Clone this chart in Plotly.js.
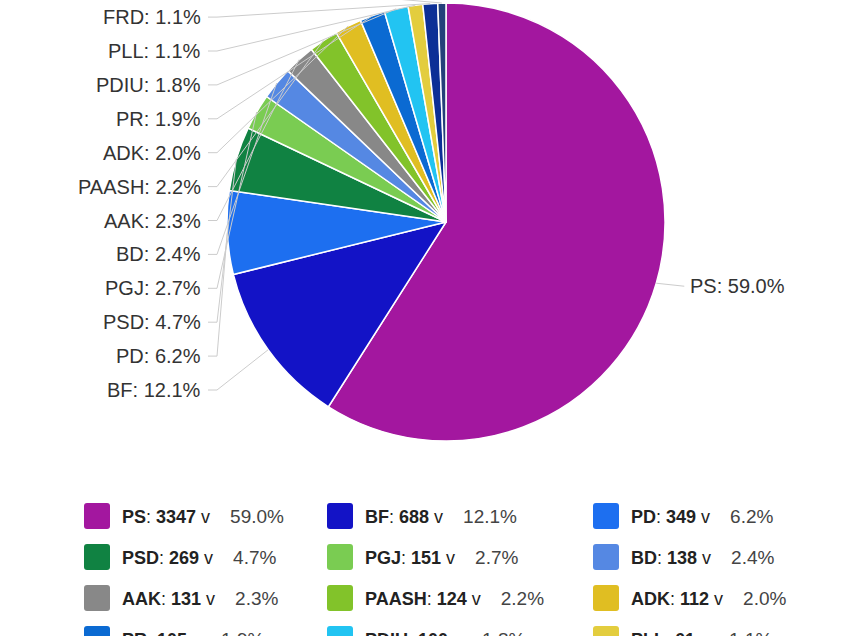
<!DOCTYPE html>
<html>
<head>
<meta charset="utf-8">
<script src="https://cdn.plot.ly/plotly-3.0.1.min.js"></script>
<style>
  html, body { margin: 0; padding: 0; background: #fff; }
  #chart { width: 850px; height: 636px; }
</style>
</head>
<body>
<div id="chart"></div>
<script>
"use strict";

/******************************** Data *********************************/

var parties = ['PS', 'BF', 'PD', 'PSD', 'PGJ', 'BD', 'AAK', 'PAASH', 'ADK', 'PR', 'PDIU', 'PLL', 'FRD', 'Të tjerë'];
var votes   = [3347, 688, 349, 269, 151, 138, 131, 124, 112, 105, 100, 61, 62, 34];
var colors  = ['#a3179f', '#1313c6', '#1d6ff0', '#108242', '#7acc52', '#5588e3', '#888888',
               '#82c32a', '#e0be22', '#0b6ad2', '#22c4f2', '#e3cd3e', '#0c2f96', '#24407a'];

/******************************** Layout constants *********************************/

var W = 850, H = 636;
var cx = 446, cy = 222, R = 219;          // pie centre / radius in pixels
var labelRight = 203, labelBottom = 390, labelStep = 33.9;
var legCols = [84, 327, 593], legTop = 516, legStep = 41, swatch = 26;

function px(x) { return x / W; }
function py(y) { return 1 - y / H; }

var total = votes.reduce(function (a, b) { return a + b; }, 0);
function pct(v) { return (100 * v / total).toFixed(1) + '%'; }

var annotations = [];
var shapes = [];

/****** pie labels with leader lines ******/
var cum = 0, k = 0;
votes.forEach(function (v, i) {
  var th = 2 * Math.PI * (cum + v / 2) / total;
  cum += v;
  var ex = cx + R * Math.sin(th), ey = cy - R * Math.cos(th);
  var txt = parties[i] + ': ' + pct(v);
  if (Math.sin(th) < 0) {
    var ly = labelBottom - k * labelStep;
    k++;
    annotations.push({x: px(labelRight), y: py(ly), xref: 'paper', yref: 'paper', text: txt,
      showarrow: false, xanchor: 'right', yanchor: 'middle', font: {size: 20, color: '#333'}});
    shapes.push({type: 'path', xref: 'paper', yref: 'paper',
      path: 'M' + px(labelRight + 5) + ',' + py(ly) + ' L' + px(labelRight + 14) + ',' + py(ly) +
            ' L' + px(ex) + ',' + py(ey),
      line: {color: '#cccccc', width: 1}});
  } else {
    var ry = ey + 3;
    annotations.push({x: px(ex + 32), y: py(ry), xref: 'paper', yref: 'paper', text: txt,
      showarrow: false, xanchor: 'left', yanchor: 'middle', font: {size: 20, color: '#333'}});
    shapes.push({type: 'path', xref: 'paper', yref: 'paper',
      path: 'M' + px(ex) + ',' + py(ey) + ' L' + px(ex + 28) + ',' + py(ry),
      line: {color: '#cccccc', width: 1}});
  }
});

/****** legend grid ******/
votes.forEach(function (v, i) {
  var x0 = legCols[i % 3], yc = legTop + Math.floor(i / 3) * legStep;
  var y0 = yc - swatch / 2, x1 = x0 + swatch, y1 = yc + swatch / 2, r = 3;
  shapes.push({type: 'path', xref: 'paper', yref: 'paper',
    path: 'M' + px(x0 + r) + ',' + py(y0) + ' L' + px(x1 - r) + ',' + py(y0) +
          ' Q' + px(x1) + ',' + py(y0) + ' ' + px(x1) + ',' + py(y0 + r) +
          ' L' + px(x1) + ',' + py(y1 - r) +
          ' Q' + px(x1) + ',' + py(y1) + ' ' + px(x1 - r) + ',' + py(y1) +
          ' L' + px(x0 + r) + ',' + py(y1) +
          ' Q' + px(x0) + ',' + py(y1) + ' ' + px(x0) + ',' + py(y1 - r) +
          ' L' + px(x0) + ',' + py(y0 + r) +
          ' Q' + px(x0) + ',' + py(y0) + ' ' + px(x0 + r) + ',' + py(y0) + ' Z',
    fillcolor: colors[i], line: {width: 0}});
  annotations.push({x: px(x0 + 36), y: py(yc), xref: 'paper', yref: 'paper',
    text: '<b>' + parties[i] + '</b>: <b>' + v + '</b> v\u00a0\u00a0\u00a0\u00a0' +
          '<span style="color:#444;font-size:19px">' + pct(v) + '</span>',
    showarrow: false, xanchor: 'left', yanchor: 'middle', font: {size: 18, color: '#222'}});
});

/****** create graph ******/
var data = [{
  type: 'pie',
  labels: parties,
  values: votes,
  sort: false,
  direction: 'clockwise',
  rotation: 0,
  textinfo: 'none',
  hoverinfo: 'label+value+percent',
  marker: {colors: colors, line: {color: '#ffffff', width: 1.5}},
  domain: {x: [px(cx - R), px(cx + R)], y: [py(cy + R), py(cy - R)]},
  showlegend: false
}];

var layout = {
  width: W,
  height: H,
  margin: {l: 0, r: 0, t: 0, b: 0},
  paper_bgcolor: '#ffffff',
  font: {family: '"Liberation Sans", Arial, sans-serif'},
  showlegend: false,
  annotations: annotations,
  shapes: shapes
};

Plotly.newPlot('chart', data, layout, {displayModeBar: false});
</script>
</body>
</html>
